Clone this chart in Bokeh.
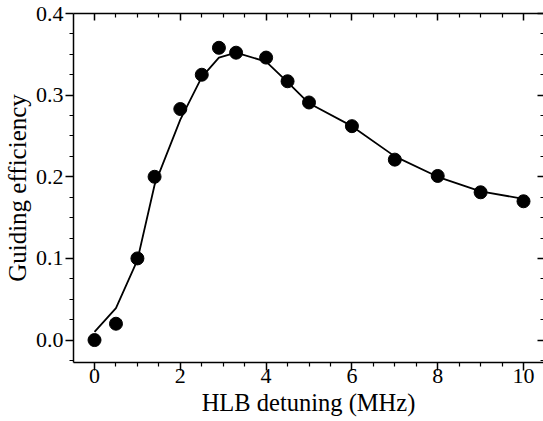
from bokeh.plotting import figure
from bokeh.models import LinearAxis, FixedTicker, Range1d
from bokeh.embed import file_html
from bokeh.resources import INLINE

# Data
detuning = [0, 0.5, 1.0, 1.4, 2.0, 2.5, 2.9, 3.3, 4.0, 4.5, 5.0, 6.0, 7.0, 8.0, 9.0, 10.0]
efficiency = [0.0, 0.02, 0.10, 0.20, 0.283, 0.325, 0.358, 0.352, 0.346, 0.317,
              0.291, 0.262, 0.221, 0.201, 0.181, 0.170]
fit = [0.010, 0.039, 0.098, 0.190, 0.270, 0.322, 0.346, 0.352, 0.341, 0.316,
       0.290, 0.262, 0.225, 0.200, 0.182, 0.173]

x_ticks = [0, 2, 4, 6, 8, 10]
x_minor = [0.5, 1, 1.5, 2.5, 3, 3.5, 4.5, 5, 5.5, 6.5, 7, 7.5, 8.5, 9, 9.5]
y_ticks = [0.0, 0.1, 0.2, 0.3, 0.4]
y_tick_labels = ["0.0", "0.1", "0.2", "0.3", "0.4"]
y_minor = [-0.025, 0.025, 0.05, 0.075, 0.125, 0.15, 0.175, 0.225, 0.25, 0.275,
           0.325, 0.35, 0.375]

FONT = "Liberation Serif"

p = figure(width=543, height=421, output_backend="svg", toolbar_location=None,
           x_range=Range1d(-0.49, 10.466), y_range=Range1d(-0.0275, 0.4),
           min_border_left=73, min_border_right=0, min_border_top=13,
           min_border_bottom=59)
p.outline_line_color = None
p.xgrid.visible = False
p.ygrid.visible = False
p.background_fill_color = "white"
p.border_fill_color = "white"

p.line(detuning, fit, line_width=1.8, line_color="black")
p.scatter(detuning, efficiency, size=13, fill_color="black", line_color="black")

def style(ax, ticks, minor):
    ax.ticker = FixedTicker(ticks=ticks, minor_ticks=minor)
    ax.axis_line_width = 1.5
    ax.axis_line_color = "black"
    ax.major_tick_line_width = 1.5
    ax.minor_tick_line_width = 1.2
    ax.major_tick_line_color = "black"
    ax.minor_tick_line_color = "black"
    ax.major_label_text_font = FONT
    ax.major_label_text_color = "black"
    ax.axis_label_text_font = FONT
    ax.axis_label_text_font_style = "normal"
    ax.axis_label_text_color = "black"

xb = p.xaxis[0]
style(xb, x_ticks, x_minor)
xb.major_tick_out = 8
xb.major_tick_in = 0
xb.minor_tick_out = 4
xb.minor_tick_in = 0
xb.major_label_text_font_size = "22px"
xb.major_label_standoff = -2
xb.axis_label = "HLB detuning (MHz)"
xb.axis_label_text_font_size = "24.5px"
xb.axis_label_standoff = 3

yl = p.yaxis[0]
style(yl, y_ticks, y_minor)
yl.major_tick_out = 8
yl.major_tick_in = 0
yl.minor_tick_out = 4
yl.minor_tick_in = 0
yl.major_label_text_font_size = "22px"
yl.major_label_standoff = 2
yl.major_label_overrides = {t: l for t, l in zip(y_ticks, y_tick_labels)}
yl.axis_label = "Guiding efficiency"
yl.axis_label_text_font_size = "25px"
yl.axis_label_standoff = 2

top = LinearAxis()
style(top, x_ticks, x_minor)
top.major_tick_in = 7
top.major_tick_out = 0
top.minor_tick_in = 4
top.minor_tick_out = 0
top.major_label_text_font_size = "0px"
top.major_label_overrides = {t: "" for t in x_ticks}
top.major_label_standoff = 0
p.add_layout(top, "above")

right = LinearAxis()
style(right, y_ticks, y_minor)
right.axis_line_color = None
right.major_tick_in = 6
right.major_tick_out = 0
right.minor_tick_in = 3
right.minor_tick_out = 0
right.major_label_text_font_size = "0px"
right.major_label_overrides = {t: "" for t in y_ticks}
right.major_label_standoff = 0
p.add_layout(right, "right")

open("out.html", "w").write(file_html(p, INLINE))
